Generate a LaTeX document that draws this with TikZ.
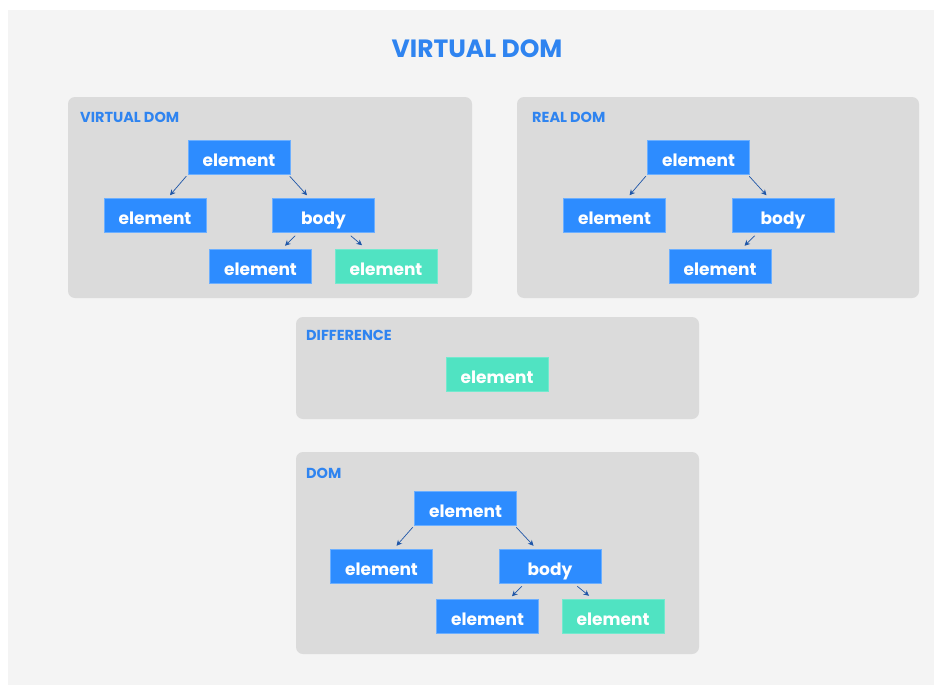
\documentclass[tikz,border=0pt]{standalone}
\usepackage{fontspec}
\setmainfont{Poppins}
\usetikzlibrary{arrows.meta}
\usetikzlibrary{positioning}
\definecolor{pagebg}{HTML}{F4F4F4}
\definecolor{panelbg}{HTML}{DBDBDB}
\definecolor{boxblue}{HTML}{2D8CFF}
\definecolor{boxteal}{HTML}{50E3C2}
\definecolor{labelblue}{HTML}{2F84F0}
\definecolor{arrowblue}{HTML}{1F56A8}
\tikzset{
    panel/.style = {fill=panelbg,rounded corners=7pt,inner sep=0,minimum height=#1},
    paneltitle/.style = {anchor=west,inner sep=0,text=labelblue,font=\fontsize{14.5}{14.5}\selectfont\bfseries},
    elem/.style = {fill=boxblue,draw=boxblue!70!white,line width=0.5pt,text=white,inner sep=0,
        minimum width=102pt,minimum height=34pt,text height=18pt,text depth=0pt,
        font=\fontsize{17}{17}\selectfont\bfseries},
    diff/.style = {elem,fill=boxteal,draw=boxteal!80!white}
}
\tikzset{
    tree/.style = {arrowblue,line width=0.7pt,-{Stealth[length=5.5pt,width=5.5pt]}}
}

\begin{document}
\begin{tikzpicture}[x=1pt,y=-1pt]
    \useasboundingbox (0,0) rectangle (934,685);
    \fill[white] (0,0) rectangle (934,685);
    \fill[pagebg] (8,10) rectangle (934,685);
    % Heading
    \node[text=labelblue,font=\fontsize{25}{25}\selectfont\bfseries] (heading) at (477,49) {VIRTUAL DOM};
    % Panels
    \node[panel=201pt,minimum width=404pt] (pvirt) at (270,197.5) {};
    \node[panel=201pt,minimum width=402pt] (preal) at (718,197.5) {};
    \node[panel=102pt,minimum width=403pt] (pdiff) at (497.5,368) {};
    \node[panel=202pt,minimum width=403pt] (pdom) at (497.5,553) {};
    \node[paneltitle] (tvirt) at (80,117) {VIRTUAL DOM};
    \node[paneltitle] (treal) at (532,117) {REAL DOM};
    \node[paneltitle] (tdiff) at (306,335) {DIFFERENCE};
    \node[paneltitle] (tdom) at (306,473) {DOM};
    % Virtual DOM tree
    \path (239,157) node[elem] (v0) {element}
        to +(-84,58.5) node[elem] (v1) {element}
        to +(84.5,58.5) node[elem] (v2) {body}
        to +(21.5,109) node[elem] (v3) {element}
        to +(147,109) node[diff] (v4) {element}
    ;
    % Real DOM tree
    \path (698.5,157) node[elem] (r0) {element}
        to +(-84,58.5) node[elem] (r1) {element}
        to +(84.5,58.5) node[elem] (r2) {body}
        to +(21.5,109) node[elem] (r3) {element}
    ;
    % Difference
    \node[diff] (x0) at (497,374) {element};
    % DOM tree
    \path (465.5,508) node[elem] (d0) {element}
        to +(-84,58) node[elem] (d1) {element}
        to +(84.5,58) node[elem] (d2) {body}
        to +(22,108.5) node[elem] (d3) {element}
        to +(147.5,108.5) node[diff] (d4) {element}
    ;
    % Edges
    \foreach \p/\c in {v0/v1,r0/r1,d0/d1}
        \draw[tree] ([xshift=-1.5pt,yshift=-2pt]\p.south west) -- ([xshift=15pt,yshift=3pt]\c.north);
    \foreach \p/\c in {v0/v2,r0/r2,d0/d2}
        \draw[tree] ([xshift=-0.5pt,yshift=-2pt]\p.south east) -- ([xshift=-16.5pt,yshift=3pt]\c.north);
    \foreach \p/\c in {v2/v3,r2/r3,d2/d3}
        \draw[tree] ([xshift=23pt,yshift=-3pt]\p.south west) -- ([xshift=24.5pt,yshift=3pt]\c.north);
    \foreach \p/\c in {v2/v4,d2/d4}
        \draw[tree] ([xshift=-24pt,yshift=-3pt]\p.south east) -- ([xshift=-24pt,yshift=3.5pt]\c.north);
\end{tikzpicture}
\end{document}
